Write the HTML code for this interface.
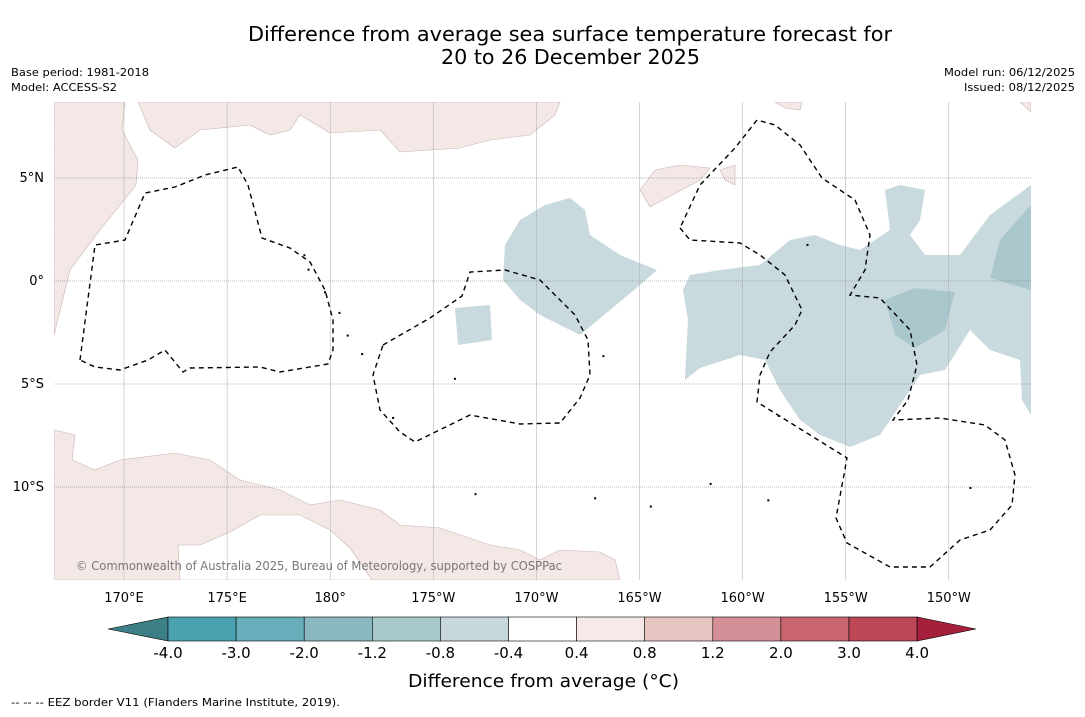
<!DOCTYPE html>
<html><head><meta charset="utf-8">
<style>
html,body{margin:0;padding:0;background:#fff;}
body{width:1085px;height:713px;overflow:hidden;font-family:"DejaVu Sans","Liberation Sans",sans-serif;}
svg text{font-family:"DejaVu Sans","Liberation Sans",sans-serif;}
</style></head>
<body>
<svg id="chart" width="1085" height="713" viewBox="0 0 1085 713" xmlns="http://www.w3.org/2000/svg">
<text x="248" y="41" font-size="20" textLength="644" lengthAdjust="spacingAndGlyphs" fill="#000">Difference from average sea surface temperature forecast for</text>
<text x="441" y="64" font-size="20" textLength="259" lengthAdjust="spacingAndGlyphs" fill="#000">20 to 26 December 2025</text>
<text x="11" y="76" font-size="11" textLength="138" lengthAdjust="spacingAndGlyphs">Base period: 1981-2018</text>
<text x="11" y="91" font-size="11" textLength="106" lengthAdjust="spacingAndGlyphs">Model: ACCESS-S2</text>
<text x="944" y="76" font-size="11" textLength="131" lengthAdjust="spacingAndGlyphs">Model run: 06/12/2025</text>
<text x="964" y="91" font-size="11" textLength="111" lengthAdjust="spacingAndGlyphs">Issued: 08/12/2025</text>

<defs><clipPath id="mapclip"><rect x="54" y="102" width="977" height="478"/></clipPath></defs>
<g clip-path="url(#mapclip)">
 <g fill="#f4e8e6" stroke="#c9b5b2" stroke-width="0.6">
  <polygon points="54,102 125,102 122,130 138,160 136,185 100,230 70,270 54,335"/>
  <polygon points="138,102 560,102 555,115 530,135 490,140 460,148 400,152 380,130 330,133 300,115 290,130 270,135 250,125 200,130 175,148 150,130"/>
  <polygon points="640,190 655,170 680,165 710,168 700,180 650,207"/>
  <polygon points="720,170 735,165 735,185 725,180"/>
  <polygon points="775,102 802,102 800,110 785,108"/>
  <polygon points="1020,102 1031,102 1031,112"/>
  <polygon points="54,430 75,435 72,460 95,470 120,460 175,453 210,460 240,480 280,490 310,505 340,500 380,510 400,525 440,528 490,545 520,550 540,560 560,550 600,552 615,560 620,580 54,580"/>
 </g>
 <polygon points="230,532 260,515 300,515 330,530 350,548 372,580 180,580 178,545 200,545" fill="#fff" stroke="#c9b5b2" stroke-width="0.6"/>
 <g fill="#c8dadd">
  <polygon points="505,245 520,220 545,205 570,198 585,210 590,235 620,255 657,270 640,285 610,310 580,335 540,315 520,300 503,280"/>
  <polygon points="455,308 490,305 492,340 458,345"/>
  <polygon points="690,275 720,270 760,265 790,240 815,235 840,245 860,250 890,230 885,190 900,185 925,190 920,220 910,235 925,255 960,255 990,215 1031,185 1031,415 1022,400 1020,360 990,350 970,330 945,370 920,375 900,405 880,435 850,447 820,435 800,420 780,390 765,360 740,355 700,368 685,380 688,320 683,290"/>
 </g>
 <g fill="#a9c7cc">
  <polygon points="885,300 915,288 955,292 945,330 915,348 895,335"/>
  <polygon points="1000,240 1031,205 1031,290 990,278"/>
 </g>
 <g id="grid"></g>
 <g fill="none" stroke="#000" stroke-width="1.4" stroke-dasharray="5,4">
  <polygon points="80,360 95,245 125,240 145,193 175,187 205,175 238,167 248,185 262,238 290,248 310,262 325,290 333,320 333,350 328,364 280,372 260,367 190,368 183,372 165,350 148,360 120,370 95,367"/>
  <polygon points="383,345 430,318 462,296 470,272 505,270 540,280 575,315 588,340 590,375 580,398 560,423 520,424 470,415 415,442 400,432 380,410 373,375"/>
  <polygon points="680,228 690,240 740,243 760,255 785,275 802,310 795,325 770,352 760,375 757,402 847,458 836,518 847,543 890,567 930,567 960,540 990,530 1012,505 1015,475 1005,440 985,425 940,418 893,420 908,400 917,365 910,330 880,298 850,295 865,270 870,235 855,200 822,178 800,145 775,125 757,120 735,148 700,185"/>
 </g>
 <g id="islands" fill="#000"></g>
 <text x="76" y="570" font-size="12" fill="#777" textLength="486" lengthAdjust="spacingAndGlyphs">© Commonwealth of Australia 2025, Bureau of Meteorology, supported by COSPPac</text>
</g>
<g id="axes"></g>
<g id="colorbar"></g>
<text x="408" y="687" font-size="18" textLength="271" lengthAdjust="spacingAndGlyphs">Difference from average (°C)</text>
<text x="11" y="706" font-size="11" textLength="329" lengthAdjust="spacingAndGlyphs">-- -- -- EEZ border V11 (Flanders Marine Institute, 2019).</text>
</svg>
<script>
const lonLabels=["170°E","175°E","180°","175°W","170°W","165°W","160°W","155°W","150°W"];
const lonValues=[170,175,180,185,190,195,200,205,210];
const latLabels=["5°N","0°","5°S","10°S"];
const latValues=[5,0,-5,-10];
const cbValues=[-4.0,-3.0,-2.0,-1.2,-0.8,-0.4,0.4,0.8,1.2,2.0,3.0,4.0];
const cbLabels=["-4.0","-3.0","-2.0","-1.2","-0.8","-0.4","0.4","0.8","1.2","2.0","3.0","4.0"];
const cbColors=["#4aa2b1","#68adba","#89b8c0","#a8c8cc","#c6d8db","#ffffff","#f6e9e7","#e6c5c0","#d58f96","#c9656f","#bd4757"];
const islandLonLat=[[178.7,1.3],[178.9,0.6],[179.7,-0.5],[180.4,-1.5],[180.8,-2.6],[181.5,-3.5],[186,-4.7],[193.2,-3.6],[201.7,-6.5],[203.1,1.8],[192.8,-10.5],[198.4,-9.8],[211,-10],[183,-6.6],[187,-10.3],[195.5,-10.9],[201.2,-10.6]];
const NS="http://www.w3.org/2000/svg";
const x=l=>124+(l-170)*20.62;
const y=la=>281-la*20.6;
const grid=document.getElementById('grid'),axes=document.getElementById('axes');
lonValues.forEach((v,i)=>{
 const ln=document.createElementNS(NS,'line');
 
 
 ln.setAttribute('x1',x(v));ln.setAttribute('x2',x(v));ln.setAttribute('y1',102);ln.setAttribute('y2',580);
 ln.setAttribute('stroke','#aaa');ln.setAttribute('stroke-width','0.5');grid.appendChild(ln);
 const t=document.createElementNS(NS,'text');
 
 
 t.setAttribute('x',x(v));t.setAttribute('y',602);t.setAttribute('font-size','13');t.setAttribute('text-anchor','middle');
 t.textContent=lonLabels[i];axes.appendChild(t);
});
latValues.forEach((v,i)=>{
 const ln=document.createElementNS(NS,'line');
 
 
 ln.setAttribute('x1',54);ln.setAttribute('x2',1031);ln.setAttribute('y1',y(v));ln.setAttribute('y2',y(v));
 ln.setAttribute('stroke','#777');ln.setAttribute('stroke-width','0.6');ln.setAttribute('stroke-dasharray','1,1');grid.appendChild(ln);
 const t=document.createElementNS(NS,'text');
 
 
 t.setAttribute('x',44);t.setAttribute('y',y(v)+4);t.setAttribute('font-size','13');t.setAttribute('text-anchor','end');
 t.textContent=latLabels[i];axes.appendChild(t);
});
const isl=document.getElementById('islands');
islandLonLat.forEach(p=>{
 const r=document.createElementNS(NS,'rect');
 
 
 r.setAttribute('x',x(p[0]));r.setAttribute('y',y(p[1]));r.setAttribute('width',2);r.setAttribute('height',2);isl.appendChild(r);
});
const cb=document.getElementById('colorbar');
const cx0=168,cw=68.1,cy=617,ch=24;
const cxi=i=>cx0+i*cw;
const lt=document.createElementNS(NS,'polygon');


lt.setAttribute('points',`${cxi(0)},${cy} ${cxi(0)},${cy+ch} 108,${cy+ch/2}`);lt.setAttribute('fill','#3c7f87');lt.setAttribute('stroke','#000');lt.setAttribute('stroke-width','0.6');cb.appendChild(lt);
cbColors.forEach((c,i)=>{
 const r=document.createElementNS(NS,'rect');
 
 
 r.setAttribute('x',cxi(i));r.setAttribute('y',cy);r.setAttribute('width',cw);r.setAttribute('height',ch);
 r.setAttribute('fill',c);r.setAttribute('stroke','#000');r.setAttribute('stroke-width','0.6');cb.appendChild(r);
});
const n=cbColors.length;
const rt=document.createElementNS(NS,'polygon');


rt.setAttribute('points',`${cxi(n)},${cy} ${cxi(n)},${cy+ch} 976,${cy+ch/2}`);rt.setAttribute('fill','#a61f3b');rt.setAttribute('stroke','#000');rt.setAttribute('stroke-width','0.6');cb.appendChild(rt);
cbValues.forEach((v,i)=>{
 const t=document.createElementNS(NS,'text');
 
 
 t.setAttribute('x',cxi(i));t.setAttribute('y',658);t.setAttribute('font-size','15');t.setAttribute('text-anchor','middle');
 t.textContent=cbLabels[i];cb.appendChild(t);
});
</script>
</body></html>
